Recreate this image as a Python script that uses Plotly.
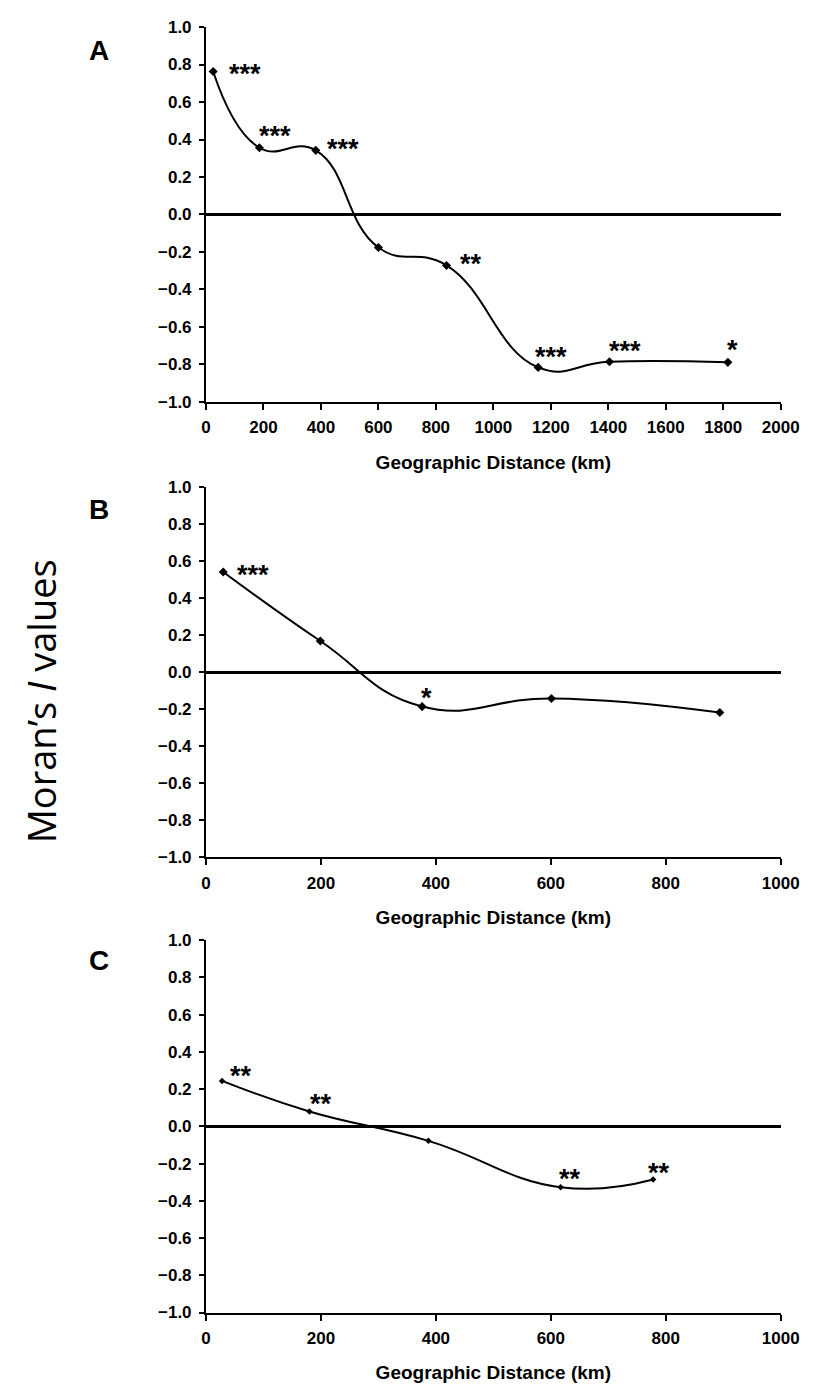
import plotly.graph_objects as go

# Moran's I correlogram values per distance class
dist_a = [25, 186, 382, 600, 837, 1156, 1404, 1816]
moran_a = [0.763, 0.356, 0.342, -0.176, -0.272, -0.816, -0.786, -0.789]
sig_a = ["***", "***", "***", "", "**", "***", "***", "*"]

dist_b = [30, 199, 376, 601, 894]
moran_b = [0.541, 0.168, -0.186, -0.142, -0.218]
sig_b = ["***", "", "*", "", ""]

dist_c = [28, 180, 387, 617, 778]
moran_c = [0.244, 0.080, -0.078, -0.327, -0.286]
sig_c = ["**", "**", "", "**", "**"]

y_ticks = [-1.0, -0.8, -0.6, -0.4, -0.2, 0.0, 0.2, 0.4, 0.6, 0.8, 1.0]

# pixel offsets of the significance stars relative to their points
off_a = [(14, 0), (-2, 15), (9, 4), (0, 0), (11, 4), (-5, 13), (-2, 14), (-3, 15)]
off_b = [(12, 0), (0, 0), (-3, 12), (0, 0), (0, 0)]
off_c = [(6, 8), (-1, 10), (0, 0), (-4, 11), (-7, 10)]

W, H = 824, 1396
FONT = "Arial, 'Liberation Sans', sans-serif"
STAR_DY = -3  # asterisks sit high in the text box

panels = [
    dict(x=dist_a, y=moran_a, sig=sig_a, off=off_a, xmax=2000, top=18.3, bot=398.3,
         msize=7, letter="A", ly=42),
    dict(x=dist_b, y=moran_b, sig=sig_b, off=off_b, xmax=1000, top=484.6, bot=860.0,
         msize=7, letter="B", ly=507),
    dict(x=dist_c, y=moran_c, sig=sig_c, off=off_c, xmax=1000, top=944.0, bot=1321.5,
         msize=5, letter="C", ly=965),
]

fig = go.Figure()
annotations = []
x0, x1 = 207 / W, 799 / W

for i, p in enumerate(panels, start=1):
    xa = "x" if i == 1 else f"x{i}"
    ya = "y" if i == 1 else f"y{i}"
    fig.add_trace(go.Scatter(
        x=p["x"], y=p["y"], xaxis=xa, yaxis=ya, mode="lines+markers",
        line=dict(color="black", width=2, shape="spline", smoothing=1.3),
        marker=dict(symbol="diamond", size=p["msize"], color="black"),
        showlegend=False, hoverinfo="skip"))

    for xv, yv, s, (dx, dy) in zip(p["x"], p["y"], p["sig"], p["off"]):
        if s:
            annotations.append(dict(
                x=xv, y=yv, xref=xa, yref=ya, text=s, showarrow=False,
                xanchor="left", yanchor="middle", xshift=dx, yshift=dy + STAR_DY,
                font=dict(family=FONT, size=27, color="black", weight="bold")))

    annotations.append(dict(
        x=97 / W, y=1 - p["ly"] / H, xref="paper", yref="paper", text=p["letter"],
        showarrow=False, xanchor="center", yanchor="middle",
        font=dict(family=FONT, size=28, color="black", weight="bold")))

    dom_y = [1 - p["bot"] / H, 1 - p["top"] / H]
    xkey = "xaxis" if i == 1 else f"xaxis{i}"
    ykey = "yaxis" if i == 1 else f"yaxis{i}"
    fig.update_layout({
        xkey: dict(domain=[x0, x1], anchor=ya, range=[0, p["xmax"]], dtick=200,
                   tick0=0, showgrid=False, zeroline=False, showline=True,
                   linecolor="black", linewidth=2, ticks="outside", ticklen=6,
                   tickwidth=1.5, tickcolor="black", ticklabelstandoff=3,
                   tickfont=dict(family=FONT, size=17, color="black", weight="bold"),
                   title=dict(text="Geographic Distance (km)", standoff=19,
                              font=dict(family=FONT, size=19, color="black",
                                        weight="bold"))),
        ykey: dict(domain=dom_y, anchor=xa, range=[-1, 1], tickvals=y_ticks,
                   tickformat=".1f", showgrid=False, zeroline=True,
                   zerolinecolor="black", zerolinewidth=3, showline=True,
                   linecolor="black", linewidth=2, ticks="outside", ticklen=5,
                   tickwidth=1.5, tickcolor="black", ticklabelstandoff=4,
                   tickfont=dict(family=FONT, size=17, color="black", weight="bold")),
    })

annotations.append(dict(
    x=38 / W, y=1 - 702 / H, xref="paper", yref="paper",
    text="Moran’s <i>I</i> values", textangle=-90, showarrow=False,
    xanchor="center", yanchor="middle",
    font=dict(family="'Open Sans', sans-serif", size=38, color="black")))

fig.update_layout(
    width=W, height=H, margin=dict(l=0, r=0, t=0, b=0),
    paper_bgcolor="white", plot_bgcolor="white", annotations=annotations)

fig.write_html("out.html")
